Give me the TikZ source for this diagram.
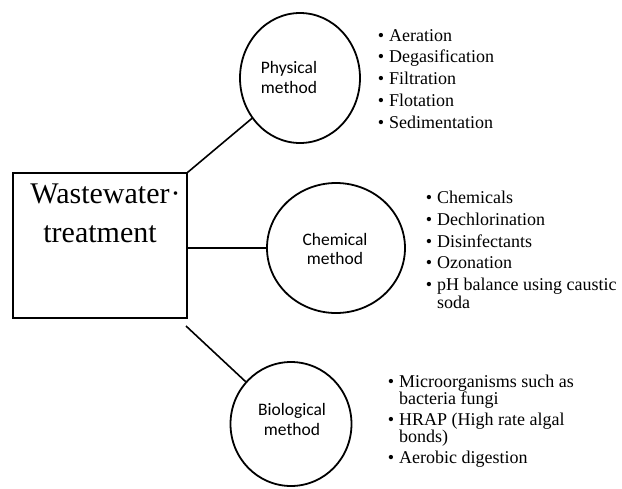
\documentclass[tikz,border=0pt]{standalone}
\usepackage{fontspec}
\setmainfont{Liberation Serif}
\newfontfamily\calib{Carlito}
\usetikzlibrary{shapes.geometric}
\begin{document}
\begin{tikzpicture}[x=1pt,y=-1pt,
  circ/.style={draw,ellipse,line width=1.8pt,inner sep=0pt},
  conn/.style={line width=1.6pt},
  itm/.style={anchor=base west,inner sep=0pt,font=\fontsize{18}{20}\selectfont},
  clab/.style={anchor=base,inner sep=0pt,font=\calib\fontsize{17.5}{20}\selectfont},
  big/.style={anchor=base,inner sep=0pt,font=\fontsize{30}{34}\selectfont}]
\useasboundingbox (0,0) rectangle (622,488);
\newcommand\bul{\llap{\textbullet\hskip 5pt}}
% main box
\node[draw,line width=1.2pt,minimum width=174pt,minimum height=145pt,inner sep=0pt] (box) at (100,245.5) {};
\node[big] (w1) at (100,203) {Wastewater\rlap{\hskip1pt·}};
\node[big] (w2) at (100,242) {treatment};
% circles
\node[circ,minimum width=120pt,minimum height=130pt] (phys) at (300,78) {};
\node[circ,minimum width=138pt,minimum height=130pt] (chem) at (336,248) {};
\node[circ,minimum width=121pt,minimum height=124pt] (bio) at (291,424) {};
\node[clab] (p1) at (289,73) {Physical};
\node[clab] (p2) at (289,93) {method};
\node[clab] (c1) at (335,245) {Chemical};
\node[clab] (c2) at (335,264) {method};
\node[clab] (b1) at (292,415) {Biological};
\node[clab] (b2) at (292,435) {method};
% connectors
\coordinate (bs) at (186,326);
\draw[conn] (box.north east) -- (phys);
\draw[conn] (box.east |- chem) -- (chem);
\draw[conn] (bs) -- (bio);
% physical list
\node[itm] (pa) at (389,41) {\bul Aeration};
\node[itm] (pb) at (389,62.8) {\bul Degasification};
\node[itm] (pc) at (389,84.6) {\bul Filtration};
\node[itm] (pd) at (389,106.4) {\bul Flotation};
\node[itm] (pe) at (389,128.2) {\bul Sedimentation};
% chemical list
\node[itm] (ca) at (437,203) {\bul Chemicals};
\node[itm] (cb) at (437,225) {\bul Dechlorination};
\node[itm] (cc) at (437,247) {\bul Disinfectants};
\node[itm] (cd) at (437,268) {\bul Ozonation};
\node[itm] (ce) at (437,290) {\bul pH balance using caustic};
\node[itm] (cf) at (437,308) {soda};
% biological list
\node[itm] (ba) at (399,387) {\bul Microorganisms such as};
\node[itm] (bb) at (399,404) {bacteria fungi};
\node[itm] (bc) at (399,425) {\bul HRAP (High rate algal};
\node[itm] (bd) at (399,442) {bonds)};
\node[itm] (be) at (399,463) {\bul Aerobic digestion};
\end{tikzpicture}
\end{document}
